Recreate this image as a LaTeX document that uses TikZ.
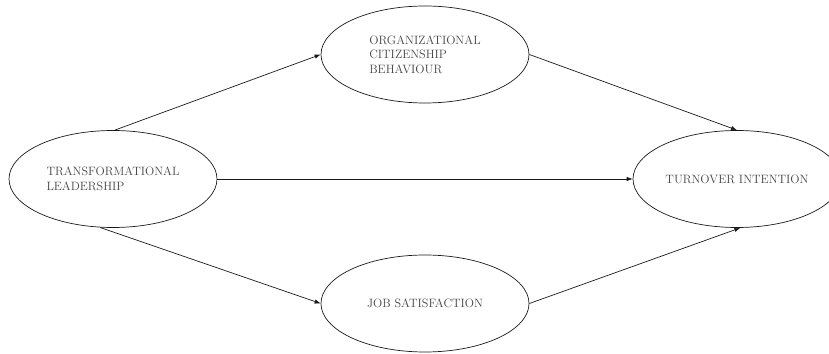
\documentclass[tikz,border=0pt]{standalone}
\usetikzlibrary{shapes.geometric,arrows.meta}
\definecolor{txtgray}{HTML}{454545}
\definecolor{linegray}{HTML}{1A1A1A}
\begin{document}
\begin{tikzpicture}[x=1pt,y=1pt,
  construct/.style={ellipse,draw=linegray,line width=0.7pt,minimum width=208pt,minimum height=97pt,inner sep=0pt,
    align=left,text=txtgray,font=\fontsize{12.1}{14.4}\selectfont},
  link/.style={draw=linegray,line width=0.7pt,-{Latex[length=6pt,width=4.5pt]}}]
\clip (0,0) rectangle (829,353);
\node[construct] (tl) at (113,174) {TRANSFORMATIONAL\\LEADERSHIP};
\node[construct] (ocb) at (425,298.5) {ORGANIZATIONAL\\CITIZENSHIP\\BEHAVIOUR};
\node[construct] (js) at (425,49.5) {JOB SATISFACTION};
\node[construct] (ti) at (737,174) {TURNOVER INTENTION};
\draw[link] (tl.88) -- (ocb.west);
\draw[link] (tl.east) -- (ti.west);
\draw[link] (tl.255) -- (js.west);
\draw[link] (ocb.east) -- (ti.north);
\draw[link] (js.east) -- (ti.-86);
\end{tikzpicture}
\end{document}
